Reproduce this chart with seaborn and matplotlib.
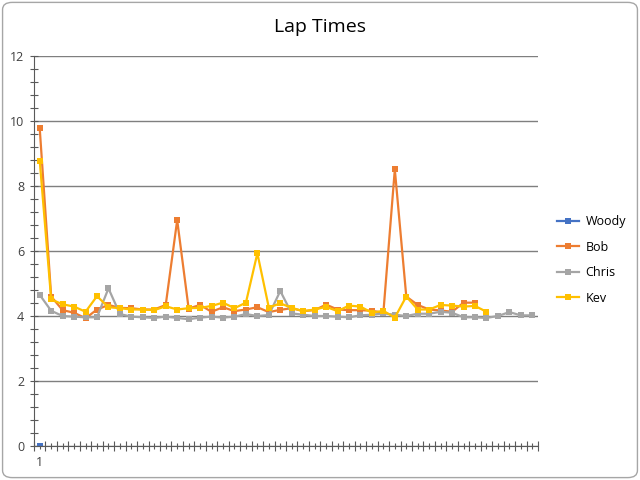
import numpy as np
import pandas as pd
import seaborn as sns
import matplotlib.pyplot as plt
from matplotlib.patches import FancyBboxPatch

laps = list(range(1, 45))

woody = [0.0] + [np.nan] * 43
bob = [9.77, 4.60, 4.18, 4.10, 3.93, 4.20, 4.34, 4.25, 4.24, 4.20,
       4.20, 4.34, 6.95, 4.23, 4.34, 4.13, 4.27, 4.15, 4.20, 4.27,
       4.12, 4.19, 4.24, 4.15, 4.18, 4.35, 4.20, 4.18, 4.18, 4.16,
       4.10, 8.51, 4.60, 4.34, 4.20, 4.17, 4.13, 4.41, 4.41,
       np.nan, np.nan, np.nan, np.nan, np.nan]
chris = [4.65, 4.16, 4.00, 3.98, 3.96, 3.96, 4.85, 4.06, 3.98, 3.96,
         3.94, 3.98, 3.94, 3.90, 3.95, 3.98, 3.95, 3.98, 4.06, 4.00,
         4.03, 4.77, 4.08, 4.04, 4.00, 4.00, 3.98, 3.96, 4.02, 4.04,
         4.08, 4.04, 4.00, 4.07, 4.07, 4.13, 4.10, 3.96, 3.96, 3.94,
         4.00, 4.12, 4.02, 4.02]
kev = [8.78, 4.51, 4.36, 4.29, 4.13, 4.61, 4.27, 4.24, 4.20, 4.20,
       4.18, 4.30, 4.20, 4.24, 4.25, 4.31, 4.41, 4.24, 4.41, 5.93,
       4.26, 4.39, 4.25, 4.15, 4.20, 4.28, 4.15, 4.32, 4.29, 4.10,
       4.16, 3.95, 4.60, 4.20, 4.20, 4.34, 4.32, 4.29, 4.31, 4.13,
       np.nan, np.nan, np.nan, np.nan]

drivers = ["Woody", "Bob", "Chris", "Kev"]
colors = ["#4472C4", "#ED7D31", "#A5A5A5", "#FFC000"]

df = pd.DataFrame({"Lap": laps * 4,
                   "Time": woody + bob + chris + kev,
                   "Driver": np.repeat(drivers, len(laps))})

plt.rcParams['font.family'] = ['Open Sans', 'DejaVu Sans']
fig = plt.figure(figsize=(6.4, 4.8), dpi=100)
ax = fig.add_axes([34/640, 1 - 446/480, 504/640, 390/480])

sns.lineplot(data=df, x="Lap", y="Time", hue="Driver", hue_order=drivers,
             palette=colors, marker="s", markersize=5, markeredgewidth=0,
             linewidth=1.6, ax=ax)

ax.set_xlim(0.5, 44.5)
ax.set_ylim(0, 12)
ax.set_yticks(np.arange(0, 13, 2))
ax.set_yticks(np.arange(0, 12.01, 0.4), minor=True)
ax.set_xticks(laps)
ax.set_xticklabels(["1"] + [""] * 43)
ax.set_xticks(np.arange(0.5, 45, 1), minor=True)
ax.tick_params(axis="x", which="major", direction="inout", length=4, width=0.8,
               color="#595959", labelsize=9, labelcolor="#404040", pad=5)
ax.tick_params(axis="x", which="minor", direction="inout", length=7, width=0.8,
               color="#595959")
ax.tick_params(axis="y", which="both", direction="inout", length=6, width=0.8,
               color="#595959", labelsize=9, labelcolor="#404040", pad=4)
ax.grid(axis="y", which="major", color="#7F7F7F", linewidth=1)
ax.set_axisbelow(True)
for side in ["top", "right"]:
    ax.spines[side].set_visible(False)
for side in ["left", "bottom"]:
    ax.spines[side].set_color("#595959")
ax.set_xlabel("")
ax.set_ylabel("")

fig.text(320/640, 1 - 27/480, "Lap Times", ha="center", va="center",
         fontsize=14, color="#000000")

sns.move_legend(ax, "center left", bbox_to_anchor=(1.015, 0.477), frameon=False,
                title=None, fontsize=9, handlelength=1.8, handletextpad=0.5,
                labelspacing=1.0)

fig.patches.append(FancyBboxPatch((0.004, 0.005), 0.992, 0.99,
                                  boxstyle="round,pad=0,rounding_size=0.015",
                                  transform=fig.transFigure, fill=False,
                                  edgecolor="#A6A6A6", linewidth=1))

fig.savefig("out.png", dpi=100)
